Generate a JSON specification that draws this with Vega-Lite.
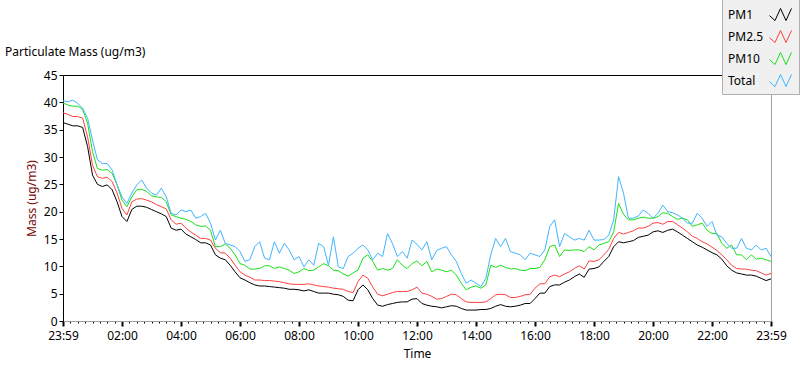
{
  "$schema": "https://vega.github.io/schema/vega-lite/v6.json",
  "width": 708,
  "height": 246,
  "autosize": "none",
  "padding": {"left": 63, "top": 75, "right": 29, "bottom": 44},
  "background": "#ffffff",
  "config": {
    "view": {"stroke": null},
    "font": "Noto Sans",
    "axis": {"grid": false, "labelFont": "Noto Sans", "titleFont": "Noto Sans", "labelFontSize": 12, "titleFontSize": 12, "titleFontWeight": "normal", "labelColor": "#000000", "titleColor": "#000000"},
    "legend": {"labelFont": "Noto Sans"}
  },
  "title": {"text": "Particulate Mass (ug/m3)", "anchor": "start", "frame": "group", "dx": -58, "dy": 86, "offset": 13, "baseline": "bottom", "fontSize": 12, "fontWeight": "normal", "font": "Noto Sans", "color": "#000000"},
  "data": {"values": [
    {"m":0,"PM1":36.3,"PM25":38.1,"PM10":39.9,"Total":40.3},
    {"m":10,"PM1":36.0,"PM25":37.8,"PM10":39.5,"Total":40.1},
    {"m":20,"PM1":35.7,"PM25":37.4,"PM10":39.3,"Total":40.4},
    {"m":30,"PM1":35.7,"PM25":37.4,"PM10":39.3,"Total":39.8},
    {"m":40,"PM1":35.4,"PM25":37.1,"PM10":38.7,"Total":38.9},
    {"m":50,"PM1":31.9,"PM25":33.7,"PM10":36.2,"Total":37.1},
    {"m":60,"PM1":26.7,"PM25":28.5,"PM10":31.0,"Total":33.1},
    {"m":70,"PM1":25.0,"PM25":26.4,"PM10":27.9,"Total":29.5},
    {"m":80,"PM1":24.6,"PM25":26.1,"PM10":27.6,"Total":28.8},
    {"m":90,"PM1":24.9,"PM25":26.3,"PM10":27.7,"Total":28.8},
    {"m":100,"PM1":24.0,"PM25":25.5,"PM10":27.0,"Total":27.6},
    {"m":110,"PM1":21.8,"PM25":23.4,"PM10":24.9,"Total":24.9},
    {"m":120,"PM1":19.1,"PM25":20.6,"PM10":22.1,"Total":22.7},
    {"m":130,"PM1":18.2,"PM25":19.4,"PM10":20.9,"Total":21.5},
    {"m":140,"PM1":20.4,"PM25":21.8,"PM10":22.7,"Total":23.4},
    {"m":150,"PM1":21.0,"PM25":22.3,"PM10":24.0,"Total":24.9},
    {"m":160,"PM1":21.0,"PM25":22.4,"PM10":24.1,"Total":25.8},
    {"m":170,"PM1":20.8,"PM25":22.1,"PM10":23.7,"Total":24.3},
    {"m":180,"PM1":20.4,"PM25":21.8,"PM10":22.9,"Total":23.4},
    {"m":190,"PM1":20.0,"PM25":21.3,"PM10":22.7,"Total":23.0},
    {"m":200,"PM1":19.6,"PM25":20.9,"PM10":22.6,"Total":24.3},
    {"m":210,"PM1":19.1,"PM25":20.5,"PM10":21.8,"Total":22.7},
    {"m":220,"PM1":17.0,"PM25":18.5,"PM10":19.4,"Total":19.7},
    {"m":230,"PM1":16.6,"PM25":17.7,"PM10":19.1,"Total":19.4},
    {"m":240,"PM1":16.8,"PM25":17.9,"PM10":18.8,"Total":20.3},
    {"m":250,"PM1":15.9,"PM25":17.0,"PM10":18.6,"Total":20.0},
    {"m":260,"PM1":15.4,"PM25":16.3,"PM10":18.2,"Total":20.3},
    {"m":270,"PM1":14.9,"PM25":15.7,"PM10":17.6,"Total":18.8},
    {"m":280,"PM1":14.3,"PM25":15.1,"PM10":17.3,"Total":19.1},
    {"m":290,"PM1":14.3,"PM25":15.1,"PM10":17.4,"Total":19.7},
    {"m":300,"PM1":13.9,"PM25":14.8,"PM10":16.6,"Total":17.9},
    {"m":310,"PM1":12.1,"PM25":13.3,"PM10":13.6,"Total":14.8},
    {"m":320,"PM1":11.5,"PM25":12.5,"PM10":13.6,"Total":16.6},
    {"m":330,"PM1":11.2,"PM25":12.4,"PM10":14.1,"Total":14.2},
    {"m":340,"PM1":10.2,"PM25":11.5,"PM10":13.3,"Total":13.9},
    {"m":350,"PM1":9.0,"PM25":10.2,"PM10":12.1,"Total":13.6},
    {"m":360,"PM1":7.9,"PM25":9.0,"PM10":10.5,"Total":12.7},
    {"m":370,"PM1":7.5,"PM25":8.4,"PM10":10.2,"Total":10.9},
    {"m":380,"PM1":7.0,"PM25":8.0,"PM10":9.5,"Total":11.2},
    {"m":390,"PM1":6.6,"PM25":7.5,"PM10":9.5,"Total":13.6},
    {"m":400,"PM1":6.4,"PM25":7.5,"PM10":9.6,"Total":14.5},
    {"m":410,"PM1":6.4,"PM25":7.4,"PM10":10.1,"Total":11.5},
    {"m":420,"PM1":6.3,"PM25":7.4,"PM10":10.1,"Total":11.2},
    {"m":430,"PM1":6.2,"PM25":7.3,"PM10":9.6,"Total":14.5},
    {"m":440,"PM1":6.1,"PM25":7.2,"PM10":9.9,"Total":12.4},
    {"m":450,"PM1":6.0,"PM25":7.0,"PM10":9.6,"Total":14.2},
    {"m":460,"PM1":5.8,"PM25":6.8,"PM10":9.3,"Total":13.0},
    {"m":470,"PM1":5.8,"PM25":6.7,"PM10":8.7,"Total":11.2},
    {"m":480,"PM1":5.7,"PM25":6.7,"PM10":9.0,"Total":11.8},
    {"m":490,"PM1":5.5,"PM25":6.7,"PM10":9.6,"Total":9.9},
    {"m":500,"PM1":5.7,"PM25":6.8,"PM10":9.2,"Total":11.2},
    {"m":510,"PM1":5.4,"PM25":6.6,"PM10":9.3,"Total":10.2},
    {"m":520,"PM1":5.1,"PM25":6.4,"PM10":9.9,"Total":14.2},
    {"m":530,"PM1":5.1,"PM25":6.3,"PM10":10.5,"Total":13.6},
    {"m":540,"PM1":5.1,"PM25":6.2,"PM10":10.1,"Total":10.2},
    {"m":550,"PM1":4.9,"PM25":6.0,"PM10":9.3,"Total":15.4},
    {"m":560,"PM1":4.8,"PM25":5.9,"PM10":9.2,"Total":9.9},
    {"m":570,"PM1":4.5,"PM25":5.8,"PM10":8.6,"Total":9.6},
    {"m":580,"PM1":3.8,"PM25":5.4,"PM10":8.2,"Total":11.8},
    {"m":590,"PM1":3.7,"PM25":5.2,"PM10":8.8,"Total":12.4},
    {"m":600,"PM1":5.7,"PM25":7.2,"PM10":9.3,"Total":13.3},
    {"m":610,"PM1":6.6,"PM25":8.4,"PM10":11.5,"Total":13.9},
    {"m":620,"PM1":5.7,"PM25":7.8,"PM10":12.1,"Total":13.0},
    {"m":630,"PM1":4.1,"PM25":6.2,"PM10":10.9,"Total":11.2},
    {"m":640,"PM1":2.9,"PM25":4.9,"PM10":9.3,"Total":12.4},
    {"m":650,"PM1":2.7,"PM25":4.6,"PM10":9.6,"Total":11.8},
    {"m":660,"PM1":3.0,"PM25":4.9,"PM10":9.3,"Total":16.0},
    {"m":670,"PM1":3.2,"PM25":5.2,"PM10":9.6,"Total":14.2},
    {"m":680,"PM1":3.4,"PM25":5.4,"PM10":11.2,"Total":11.8},
    {"m":690,"PM1":3.5,"PM25":5.4,"PM10":10.2,"Total":12.7},
    {"m":700,"PM1":3.5,"PM25":5.4,"PM10":9.6,"Total":11.5},
    {"m":710,"PM1":4.0,"PM25":5.7,"PM10":10.5,"Total":14.8},
    {"m":720,"PM1":4.1,"PM25":6.2,"PM10":11.0,"Total":14.0},
    {"m":730,"PM1":3.2,"PM25":5.1,"PM10":10.1,"Total":13.0},
    {"m":740,"PM1":2.9,"PM25":4.9,"PM10":10.9,"Total":14.5},
    {"m":750,"PM1":2.7,"PM25":4.5,"PM10":9.0,"Total":11.2},
    {"m":760,"PM1":2.6,"PM25":4.0,"PM10":9.5,"Total":12.9},
    {"m":770,"PM1":2.4,"PM25":4.1,"PM10":9.3,"Total":13.3},
    {"m":780,"PM1":2.6,"PM25":4.5,"PM10":9.0,"Total":13.6},
    {"m":790,"PM1":2.8,"PM25":4.9,"PM10":9.3,"Total":12.1},
    {"m":800,"PM1":2.7,"PM25":4.8,"PM10":8.4,"Total":10.9},
    {"m":810,"PM1":2.3,"PM25":4.1,"PM10":6.9,"Total":8.7},
    {"m":820,"PM1":2.0,"PM25":3.5,"PM10":5.7,"Total":6.9},
    {"m":830,"PM1":2.0,"PM25":3.4,"PM10":6.2,"Total":7.5},
    {"m":840,"PM1":2.0,"PM25":3.4,"PM10":6.4,"Total":6.9},
    {"m":850,"PM1":2.1,"PM25":3.4,"PM10":6.0,"Total":6.3},
    {"m":860,"PM1":2.1,"PM25":3.5,"PM10":6.6,"Total":7.8},
    {"m":870,"PM1":2.3,"PM25":4.1,"PM10":10.2,"Total":12.1},
    {"m":880,"PM1":2.7,"PM25":4.8,"PM10":9.8,"Total":15.1},
    {"m":890,"PM1":3.0,"PM25":4.9,"PM10":10.2,"Total":13.6},
    {"m":900,"PM1":2.7,"PM25":4.8,"PM10":9.8,"Total":15.1},
    {"m":910,"PM1":2.6,"PM25":4.3,"PM10":9.5,"Total":12.7},
    {"m":920,"PM1":2.7,"PM25":4.3,"PM10":9.6,"Total":12.4},
    {"m":930,"PM1":2.9,"PM25":4.5,"PM10":9.3,"Total":12.1},
    {"m":940,"PM1":3.2,"PM25":4.8,"PM10":9.2,"Total":11.2},
    {"m":950,"PM1":3.2,"PM25":4.9,"PM10":9.6,"Total":12.4},
    {"m":960,"PM1":4.1,"PM25":6.0,"PM10":9.6,"Total":12.1},
    {"m":970,"PM1":5.1,"PM25":6.8,"PM10":9.8,"Total":11.8},
    {"m":980,"PM1":5.1,"PM25":6.8,"PM10":11.2,"Total":13.0},
    {"m":990,"PM1":6.3,"PM25":8.1,"PM10":13.6,"Total":17.3},
    {"m":1000,"PM1":6.6,"PM25":8.4,"PM10":13.9,"Total":18.5},
    {"m":1010,"PM1":6.6,"PM25":8.1,"PM10":11.8,"Total":13.6},
    {"m":1020,"PM1":7.1,"PM25":8.6,"PM10":13.0,"Total":16.0},
    {"m":1030,"PM1":7.5,"PM25":9.0,"PM10":12.9,"Total":15.4},
    {"m":1040,"PM1":8.1,"PM25":9.6,"PM10":13.0,"Total":14.8},
    {"m":1050,"PM1":8.6,"PM25":10.1,"PM10":13.0,"Total":15.1},
    {"m":1060,"PM1":8.0,"PM25":9.5,"PM10":12.7,"Total":14.8},
    {"m":1070,"PM1":9.5,"PM25":11.0,"PM10":13.6,"Total":16.6},
    {"m":1080,"PM1":9.6,"PM25":10.9,"PM10":13.0,"Total":14.8},
    {"m":1090,"PM1":9.9,"PM25":11.2,"PM10":13.9,"Total":14.8},
    {"m":1100,"PM1":10.9,"PM25":12.1,"PM10":14.2,"Total":14.9},
    {"m":1110,"PM1":11.8,"PM25":13.1,"PM10":14.5,"Total":15.7},
    {"m":1120,"PM1":13.6,"PM25":15.1,"PM10":16.3,"Total":18.5},
    {"m":1130,"PM1":14.5,"PM25":16.2,"PM10":21.5,"Total":26.4},
    {"m":1140,"PM1":14.3,"PM25":15.9,"PM10":19.5,"Total":23.4},
    {"m":1150,"PM1":14.5,"PM25":16.2,"PM10":18.5,"Total":18.8},
    {"m":1160,"PM1":14.7,"PM25":16.5,"PM10":18.5,"Total":18.8},
    {"m":1170,"PM1":15.3,"PM25":17.0,"PM10":18.8,"Total":19.2},
    {"m":1180,"PM1":15.5,"PM25":17.0,"PM10":19.0,"Total":20.3},
    {"m":1190,"PM1":15.7,"PM25":17.3,"PM10":18.8,"Total":19.7},
    {"m":1200,"PM1":16.3,"PM25":17.9,"PM10":18.8,"Total":18.8},
    {"m":1210,"PM1":16.5,"PM25":18.0,"PM10":19.1,"Total":19.7},
    {"m":1220,"PM1":16.2,"PM25":17.7,"PM10":19.8,"Total":21.2},
    {"m":1230,"PM1":16.6,"PM25":18.2,"PM10":19.7,"Total":20.0},
    {"m":1240,"PM1":16.8,"PM25":18.2,"PM10":19.1,"Total":19.8},
    {"m":1250,"PM1":16.3,"PM25":17.6,"PM10":18.6,"Total":19.4},
    {"m":1260,"PM1":15.7,"PM25":17.0,"PM10":18.8,"Total":18.8},
    {"m":1270,"PM1":15.1,"PM25":16.3,"PM10":18.5,"Total":17.9},
    {"m":1280,"PM1":14.5,"PM25":15.5,"PM10":17.3,"Total":17.9},
    {"m":1290,"PM1":13.9,"PM25":15.1,"PM10":17.6,"Total":19.7},
    {"m":1300,"PM1":13.5,"PM25":14.5,"PM10":17.9,"Total":18.8},
    {"m":1310,"PM1":13.0,"PM25":14.1,"PM10":16.6,"Total":17.3},
    {"m":1320,"PM1":12.5,"PM25":13.5,"PM10":16.0,"Total":18.2},
    {"m":1330,"PM1":12.1,"PM25":12.9,"PM10":16.0,"Total":15.7},
    {"m":1340,"PM1":11.3,"PM25":12.1,"PM10":14.2,"Total":15.4},
    {"m":1350,"PM1":10.1,"PM25":11.2,"PM10":13.3,"Total":14.2},
    {"m":1360,"PM1":9.3,"PM25":10.2,"PM10":13.9,"Total":13.3},
    {"m":1370,"PM1":8.8,"PM25":9.6,"PM10":12.1,"Total":13.3},
    {"m":1380,"PM1":8.6,"PM25":9.5,"PM10":12.1,"Total":15.1},
    {"m":1390,"PM1":8.4,"PM25":9.5,"PM10":11.2,"Total":13.3},
    {"m":1400,"PM1":8.4,"PM25":9.3,"PM10":12.1,"Total":13.0},
    {"m":1410,"PM1":8.2,"PM25":9.2,"PM10":11.3,"Total":13.9},
    {"m":1420,"PM1":7.8,"PM25":8.8,"PM10":11.5,"Total":13.0},
    {"m":1430,"PM1":7.4,"PM25":8.4,"PM10":11.2,"Total":13.3},
    {"m":1440,"PM1":7.7,"PM25":8.7,"PM10":10.9,"Total":11.8}
  ]},
  "transform": [{"fold": ["PM1", "PM25", "PM10", "Total"], "as": ["series", "mass"]}],
  "layer": [
    {
      "mark": {"type": "line", "opacity": 0},
      "encoding": {
        "x": {"field": "m", "type": "quantitative", "scale": {"domain": [0, 1440], "nice": false, "zero": false},
              "axis": {"orient": "bottom", "values": [0,15,30,45,60,75,90,105,120,135,150,165,180,195,210,225,240,255,270,285,300,315,330,345,360,375,390,405,420,435,450,465,480,495,510,525,540,555,570,585,600,615,630,645,660,675,690,705,720,735,750,765,780,795,810,825,840,855,870,885,900,915,930,945,960,975,990,1005,1020,1035,1050,1065,1080,1095,1110,1125,1140,1155,1170,1185,1200,1215,1230,1245,1260,1275,1290,1305,1320,1335,1350,1365,1380,1395,1410,1425,1440],
                       "labels": false, "domain": false, "ticks": true, "tickSize": 2, "tickColor": "#000000", "title": null}},
        "y": {"field": "mass", "type": "quantitative", "scale": {"domain": [0, 45], "nice": false},
              "axis": {"orient": "right", "labels": false, "ticks": false, "domain": true, "domainColor": "#a0a0a0", "title": null}}
      }
    },
    {
      "mark": {"type": "line", "opacity": 0},
      "encoding": {
        "x": {"field": "m", "type": "quantitative", "axis": {"orient": "top", "labels": false, "ticks": false, "domain": true, "domainColor": "#000000", "title": null}},
        "y": {"field": "mass", "type": "quantitative", "axis": null}
      }
    },
    {
      "mark": {"type": "line", "strokeWidth": 1},
      "encoding": {
        "x": {"field": "m", "type": "quantitative",
              "axis": {"orient": "bottom", "values": [0,120,240,360,480,600,720,840,960,1080,1200,1320,1440],
                       "labelExpr": "datum.value == 0 || datum.value == 1440 ? '23:59' : (datum.value < 600 ? '0' : '') + floor(datum.value / 60) + ':00'",
                       "tickSize": 5, "tickWidth": 2, "tickColor": "#000000", "domain": true, "domainColor": "#a0a0a0",
                       "labelPadding": 4, "labelFlush": false, "labelOverlap": false, "labelBound": false,
                       "title": "Time", "titlePadding": 7}},
        "y": {"field": "mass", "type": "quantitative",
              "axis": {"orient": "left", "values": [0,5,10,15,20,25,30,35,40,45], "tickSize": 4, "tickColor": "#000000",
                       "domainColor": "#000000", "labelPadding": 2, "labelFlush": false, "labelOverlap": false,
                       "title": "Mass (ug/m3)", "titleColor": "#7a0a0a", "titleX": -32, "titleY": 123, "titleAlign": "center", "titleBaseline": "middle", "titleAngle": -90}},
        "color": {"field": "series", "type": "nominal",
                  "scale": {"domain": ["PM1", "PM25", "PM10", "Total"], "range": ["#000000", "#ff4040", "#18e018", "#40b4ff"]},
                  "legend": {"orient": "none", "legendX": 659, "legendY": -77, "title": null,
                             "symbolType": "M-1,0.1L-0.5,0.55L0,-0.55L0.5,0.55L1,-0.55", "symbolSize": 484, "symbolStrokeWidth": 1,
                             "symbolFillColor": "transparent", "symbolOffset": 42, "labelOffset": -64,
                             "labelFontSize": 12, "labelColor": "#000000", "rowPadding": 2, "padding": 5,
                             "fillColor": "#f0f0f0", "strokeColor": "#b0b0b0",
                             "labelExpr": "datum.label == 'PM25' ? 'PM2.5' : datum.label"}}
      }
    }
  ],
  "resolve": {"axis": {"x": "independent", "y": "independent"}}
}
